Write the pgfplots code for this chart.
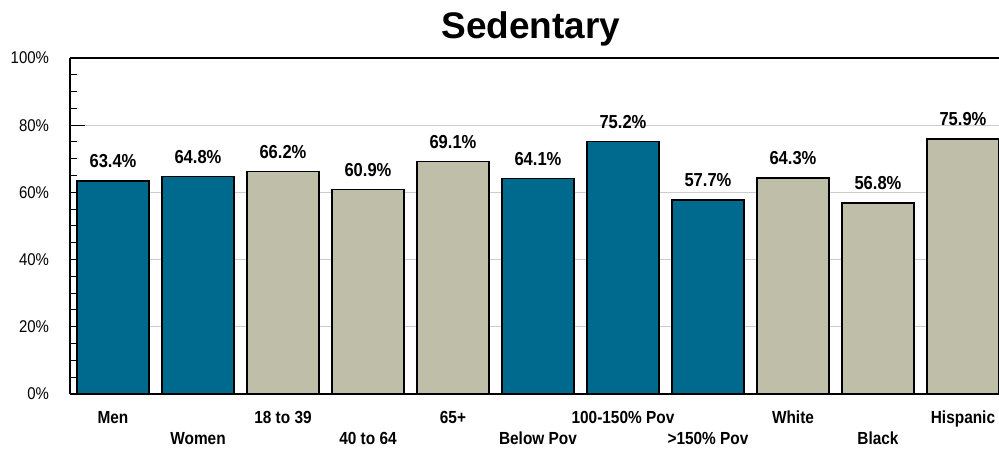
\documentclass[border=0pt]{standalone}
\usepackage{pgfplots}
\pgfplotsset{compat=1.18}
\usepackage{fontspec}
\setmainfont{Liberation Sans}
\newfontfamily\nar{Liberation Sans}[FakeStretch=0.88]
\definecolor{cteal}{HTML}{006A8E}
\definecolor{cbeige}{HTML}{BFBFA9}
\newcommand\low[1]{\raisebox{-21pt}[0pt][0pt]{#1}}
\begin{document}
\begin{tikzpicture}
\useasboundingbox (0,0) rectangle (999pt,452pt);
\node[anchor=base, font=\bfseries\fontsize{37}{40}\selectfont] at (531pt,413pt) {Sedentary};
\begin{axis}[
 at={(70pt,58pt)}, anchor=south west,
 scale only axis, width=929pt, height=336pt,
 xmin=-0.506, xmax=10.424, ymin=0, ymax=100,
 axis x line*=bottom, axis y line*=left,
 axis line style={line width=1.3pt, black},
 ytick={0,20,...,100}, minor y tick num=3,
 tick align=inside, major tick length=15pt, minor tick length=7pt,
 tick style={black, line width=1pt},
 ymajorgrids, grid style={gray!40, line width=0.9pt},
 xtick={0,...,10},
 xticklabels={Men,\low{Women},18 to 39,\low{40 to 64},65+,\low{Below Pov},100-150\% Pov,\low{>150\% Pov},White,\low{Black},Hispanic},
 x tick style={draw=none},
 yticklabel={\pgfmathprintnumber{\tick}\%},
 /pgf/number format/assume math mode=true,
 yticklabel style={font=\nar\fontsize{17}{19}\selectfont, xshift=-17.5pt},
 xticklabel style={font=\nar\bfseries\fontsize{17.5}{20}\selectfont, text height=12.5pt, anchor=north, yshift=2pt},
 ybar, bar width=72pt, bar shift=0pt,
 nodes near coords={\pgfmathprintnumber[fixed,fixed zerofill,precision=1]{\pgfplotspointmeta}\%},
 nodes near coords style={font=\nar\bfseries\fontsize{18.8}{20}\selectfont, anchor=south, yshift=9pt, black},
 clip=false,
]
\addplot[fill=cteal, draw=black, line width=1.3pt] coordinates {(0,63.4) (1,64.8) (5,64.1) (6,75.2) (7,57.7)};
\addplot[fill=cbeige, draw=black, line width=1.3pt] coordinates {(2,66.2) (3,60.9) (4,69.1) (8,64.3) (9,56.8) (10,75.9)};
\draw[line width=1.3pt, black] (rel axis cs:0,1) -- (rel axis cs:1,1);
\end{axis}
\end{tikzpicture}
\end{document}
